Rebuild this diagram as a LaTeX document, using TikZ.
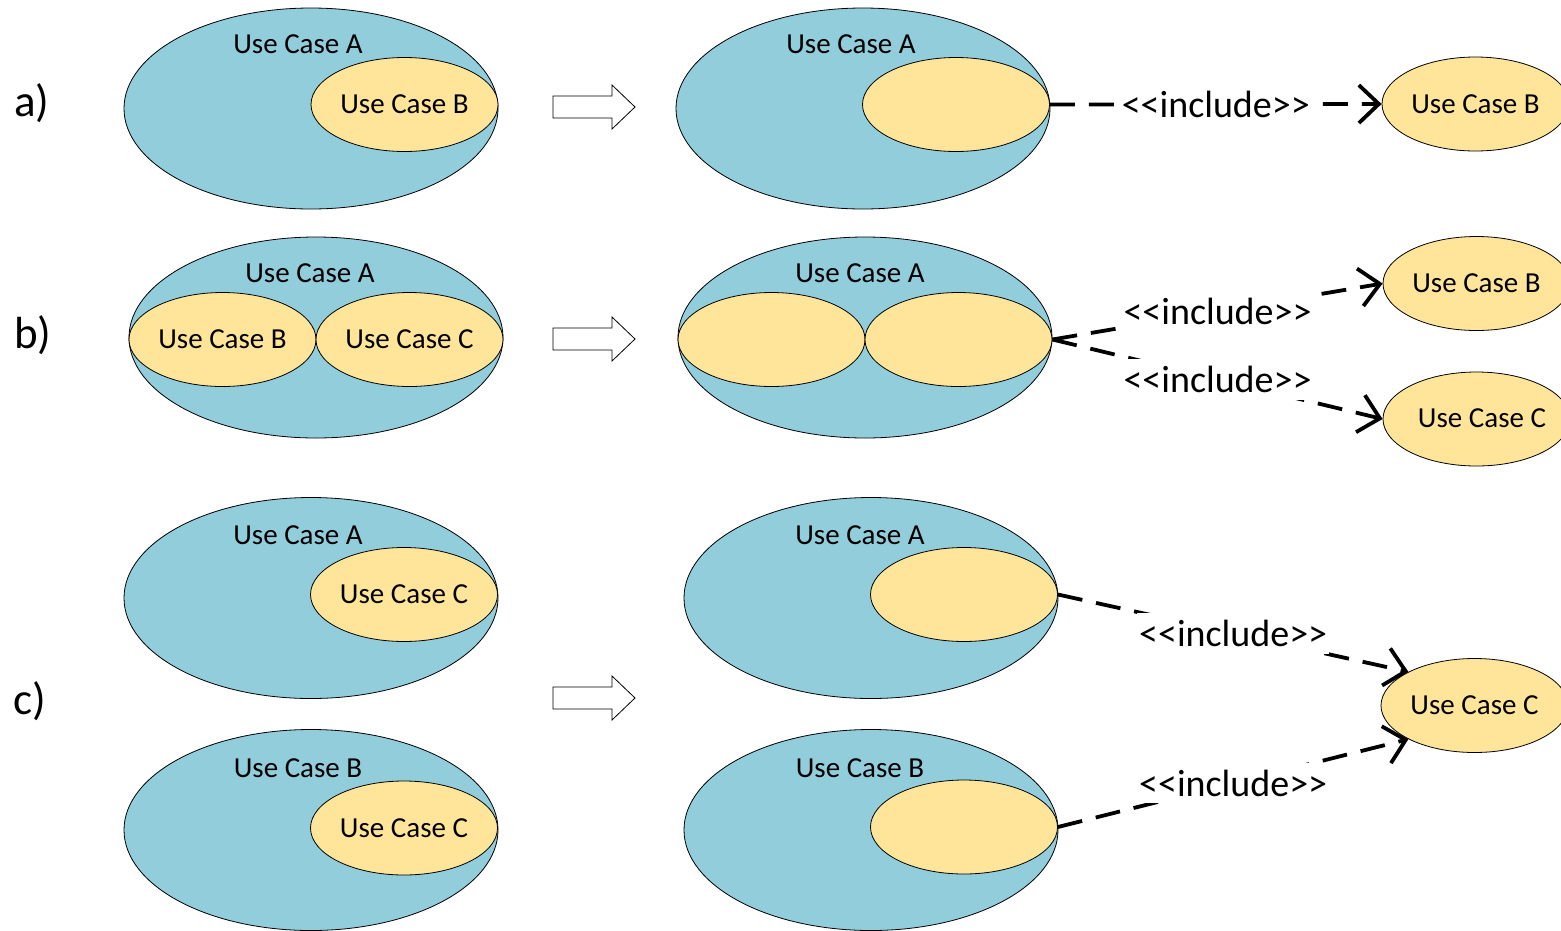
\documentclass[tikz,border=0pt]{standalone}
\usepackage{fontspec}
\setmainfont{Carlito}
\usetikzlibrary{shapes.geometric,arrows.meta}
\definecolor{ucblue}{HTML}{92CDDC}
\definecolor{ucyellow}{HTML}{FFE599}
\newcommand{\inctext}{<\kern0pt<include>\kern0pt>}
\begin{document}
\begin{tikzpicture}[x=1pt,y=-1pt,
  big/.style={ellipse,draw=black,line width=0.8pt,fill=ucblue,minimum width=374pt,minimum height=201pt,inner sep=0pt},
  small/.style={ellipse,draw=black,line width=0.8pt,fill=ucyellow,minimum width=187pt,minimum height=94pt,inner sep=0pt,font=\fontsize{29}{30}\selectfont},
  ttl/.style={font=\fontsize{29}{30}\selectfont,inner sep=0pt},
  rowlbl/.style={font=\fontsize{45}{45}\selectfont,inner sep=0pt},
  inc/.style={draw=black,line width=3.8pt,dash pattern=on 25pt off 14pt,-{Straight Barb[length=20pt,width=38pt]}},
  inclbl/.style={fill=white,inner xsep=2pt,inner ysep=7pt,font=\fontsize{38}{38}\selectfont},
  blockarr/.pic={\draw[line width=0.8pt,fill=white] (0,-11)--(59,-11)--(59,-22)--(82,0)--(59,22)--(59,11)--(0,11)--cycle;}
]
\useasboundingbox[fill=white] (0,0) rectangle (1561,930);

% row a
\node[big] (a1) at (311,108.5) {};
\node[small] (a1b) at (404.5,104.5) {Use Case B};
\node[ttl] (a1t) at (298,44) {Use Case A};
\node[rowlbl] (la) at (32,103) {a)};
\pic at (553,107) {blockarr};
\node[big] (a2) at (863,108.5) {};
\node[small] (a2b) at (956,104.5) {};
\node[ttl] (a2t) at (851,44) {Use Case A};
\node[small] (a3) at (1475.5,104) {Use Case B};
\draw[inc] (a2b.east) -- node[inclbl]{\inctext} (a3.west);

% row b
\node[big] (b1) at (316,337.5) {};
\node[small] (b1b) at (222.5,339.5) {Use Case B};
\node[small] (b1c) at (409.5,339.5) {Use Case C};
\node[ttl] (b1t) at (310,273) {Use Case A};
\node[rowlbl] (lb) at (33,335) {b)};
\pic at (553,339) {blockarr};
\node[big] (b2) at (865,337.5) {};
\node[small] (b2b) at (771.5,339.5) {};
\node[small] (b2c) at (958.5,339.5) {};
\node[ttl] (b2t) at (860,273) {Use Case A};
\node[small] (b3) at (1476.5,283.5) {Use Case B};
\node[small] (b4) at (1476.5,419) {};
\node[ttl] (b4t) at (1482,418) {Use Case C};
\draw[inc] (b2c.east) -- node[inclbl]{\inctext} (b3.west);
\draw[inc] (b2c.east) -- node[inclbl]{\inctext} (b4.west);

% row c
\node[big] (c1) at (311,598) {};
\node[small] (c1c) at (404,594.5) {Use Case C};
\node[ttl] (c1t) at (298,535) {Use Case A};
\node[big] (c2) at (311,830) {};
\node[small] (c2c) at (404,828) {Use Case C};
\node[ttl] (c2t) at (298,768) {Use Case B};
\node[rowlbl] (lc) at (30,701) {c)};
\pic at (553,698) {blockarr};
\node[big] (c3) at (871,598) {};
\node[small] (c3c) at (964,594.5) {};
\node[ttl] (c3t) at (860,535) {Use Case A};
\node[big] (c4) at (871,830) {};
\node[small] (c4c) at (964,827) {};
\node[ttl] (c4t) at (860,768) {Use Case B};
\node[small] (c5) at (1474.5,705.5) {Use Case C};
\draw[inc] (c3c.east) -- node[inclbl]{\inctext} (c5.153);
\draw[inc] (c4c.east) -- node[inclbl]{\inctext} (c5.207);
\end{tikzpicture}
\end{document}
